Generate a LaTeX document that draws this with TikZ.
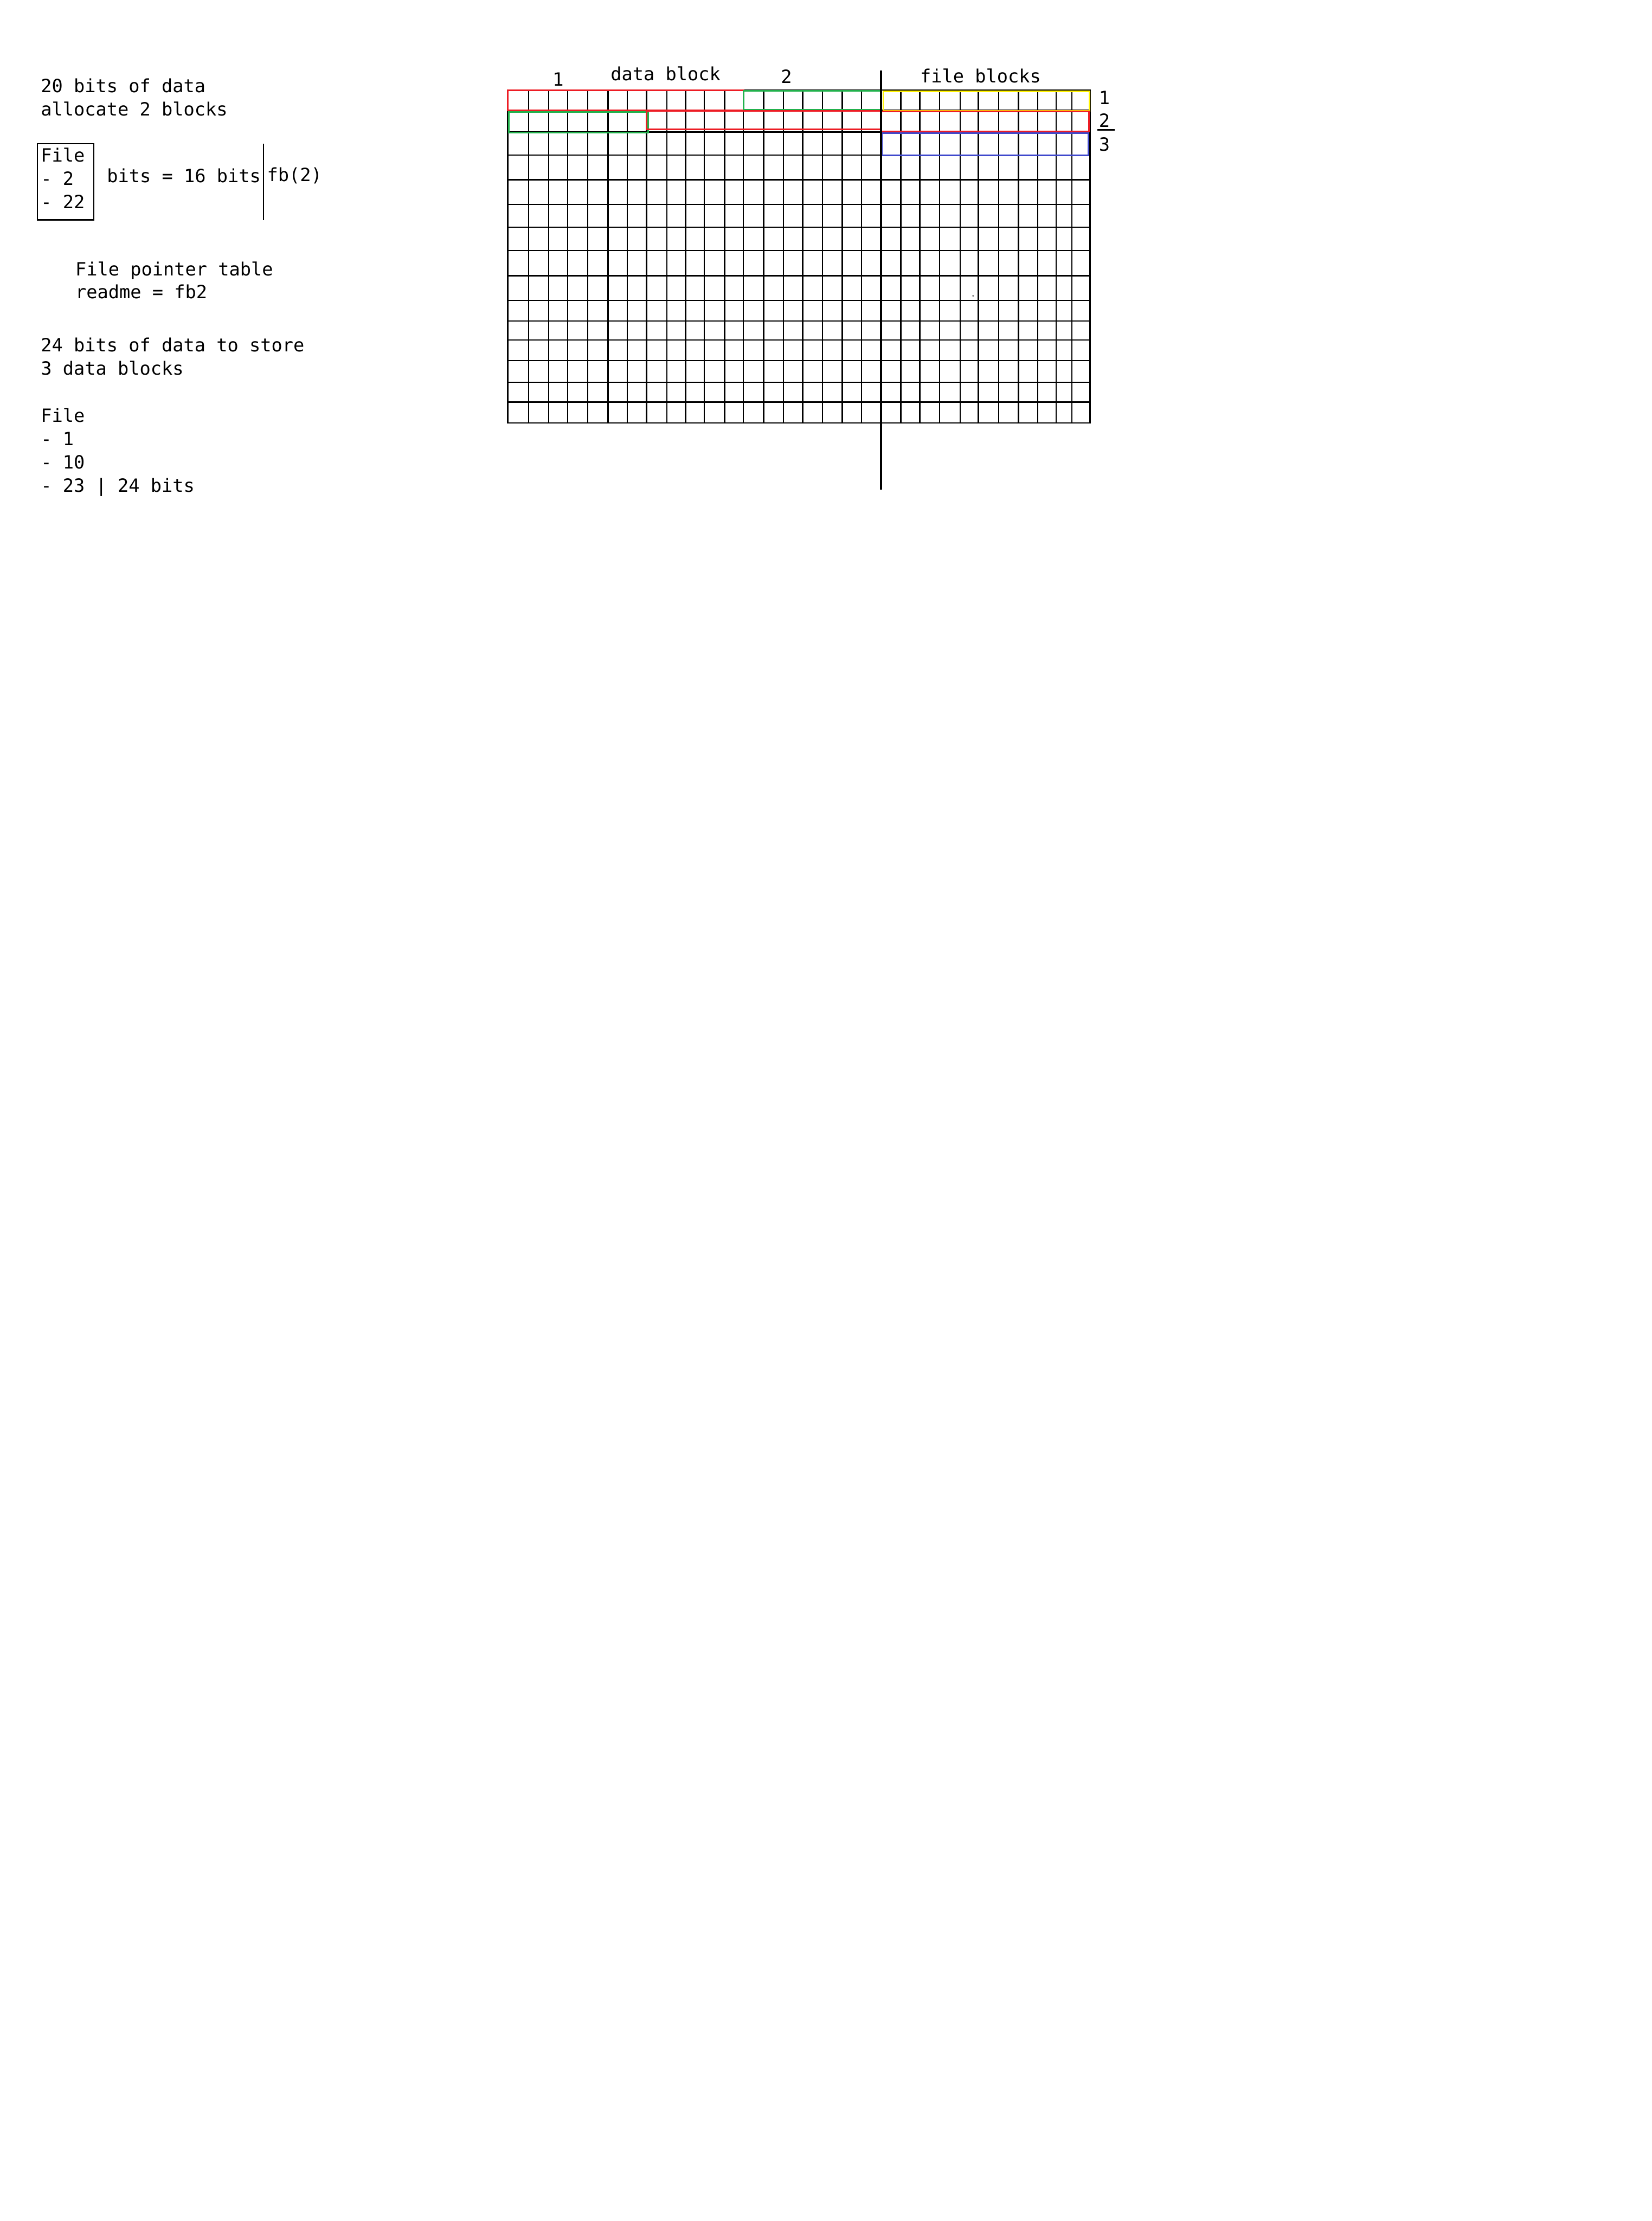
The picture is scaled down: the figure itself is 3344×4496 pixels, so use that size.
\documentclass[tikz,border=0pt]{standalone}
\usepackage{fontspec}
\setmonofont{DejaVu Sans Mono}
\usepackage{tikz}
\definecolor{pred}{HTML}{ED1C24}
\definecolor{pgreen}{HTML}{22B14C}
\definecolor{pyellow}{HTML}{FFF200}
\definecolor{pblue}{HTML}{3F48CC}

\begin{document}
\begin{tikzpicture}[
  x=0.01cm, y=-0.01cm,
  font=\ttfamily\fontsize{10.5pt}{13.4pt}\selectfont,
  txt/.style={anchor=base west,inner sep=0pt},
  lbl/.style={anchor=base,inner sep=0pt},
  cell/.style={line width=0.8pt,line cap=rect},
  blk/.style={line width=0.9pt},
  sep/.style={line width=1.2pt},
]
\useasboundingbox (0,0) rectangle (3344,4496);

% ---- left: the notes
\node[txt] (need) at (82,187) {20 bits of data};
\node[txt] (alloc) at (82,234) {allocate 2 blocks};
\node[txt] (fhead) at (82,328) {File};
\node[txt] (fone) at (82,375) {- 2};
\node[txt] (ftwo) at (82,421.5) {- 22};
\draw[line width=0.7pt] (76,291) rectangle (190,445);
\node[txt] (bits) at (216,369) {bits = 16 bits};
\draw[line width=0.5pt] (533.5,291) -- (533.5,446);
\node[txt] (fb) at (540,367) {fb(2)};

\node[txt] (fpt) at (152,558) {File pointer table};
\node[txt] (readme) at (152,604) {readme = fb2};

\node[txt] (need2) at (82,711.6) {24 bits of data to store};
\node[txt] (three) at (82,759) {3 data blocks};
\node[txt] (ghead) at (82,854) {File};
\node[txt] (gone) at (82,902) {- 1};
\node[txt] (gtwo) at (82,949) {- 10};
\node[txt] (gthree) at (82,996) {- 23 | 24 bits};

% ---- right: the block grid
\foreach \y in {182,223,267,314,364,414,460,507,558,608,650,688,730,774,814,856}
  \draw[cell] (1028,\y) -- (2207,\y);
\foreach \x in {1028,1070,1111,1149,1190,1231,1270,1309,1350,1388,1426,1467,1505,
                1546,1586,1625,1665,1705,1744,1784,1824,1862,1902,1944,1981,2022,
                2062,2101,2138,2170,2207}
  \draw[cell] (\x,182) -- (\x,856);
\fill (1970,599) circle [radius=0.15mm];

% ---- coloured runs
\draw[blk,pred] (1028,183) rectangle (1505,223);
\draw[blk,pgreen] (1505,184) rectangle (1784,222);
\draw[blk,pgreen] (1030,227) rectangle (1312,268);
\draw[blk,pred] (1309,224) rectangle (1783,262);
\draw[blk,pyellow] (1788,185) rectangle (2206,224);
\draw[blk,pred] (1784,226) rectangle (2205,266);
\draw[blk,pblue] (1785,269) rectangle (2204,314);

\draw[sep] (1784,143) -- (1784,991);

% ---- labels
\node[lbl] (dbone) at (1130,173.6) {1};
\node[lbl] (dbhead) at (1347.5,162.5) {data block};
\node[lbl] (dbtwo) at (1592,169) {2};
\node[lbl] (fbhead) at (1985,167) {file blocks};
\node[lbl] (rone) at (2236,211) {1};
\node[lbl] (rtwo) at (2236,257) {2};
\node[lbl] (rthree) at (2236,305.5) {3};
\draw[line width=0.7pt] (2222,263) -- (2257,263);
\end{tikzpicture}
\end{document}
